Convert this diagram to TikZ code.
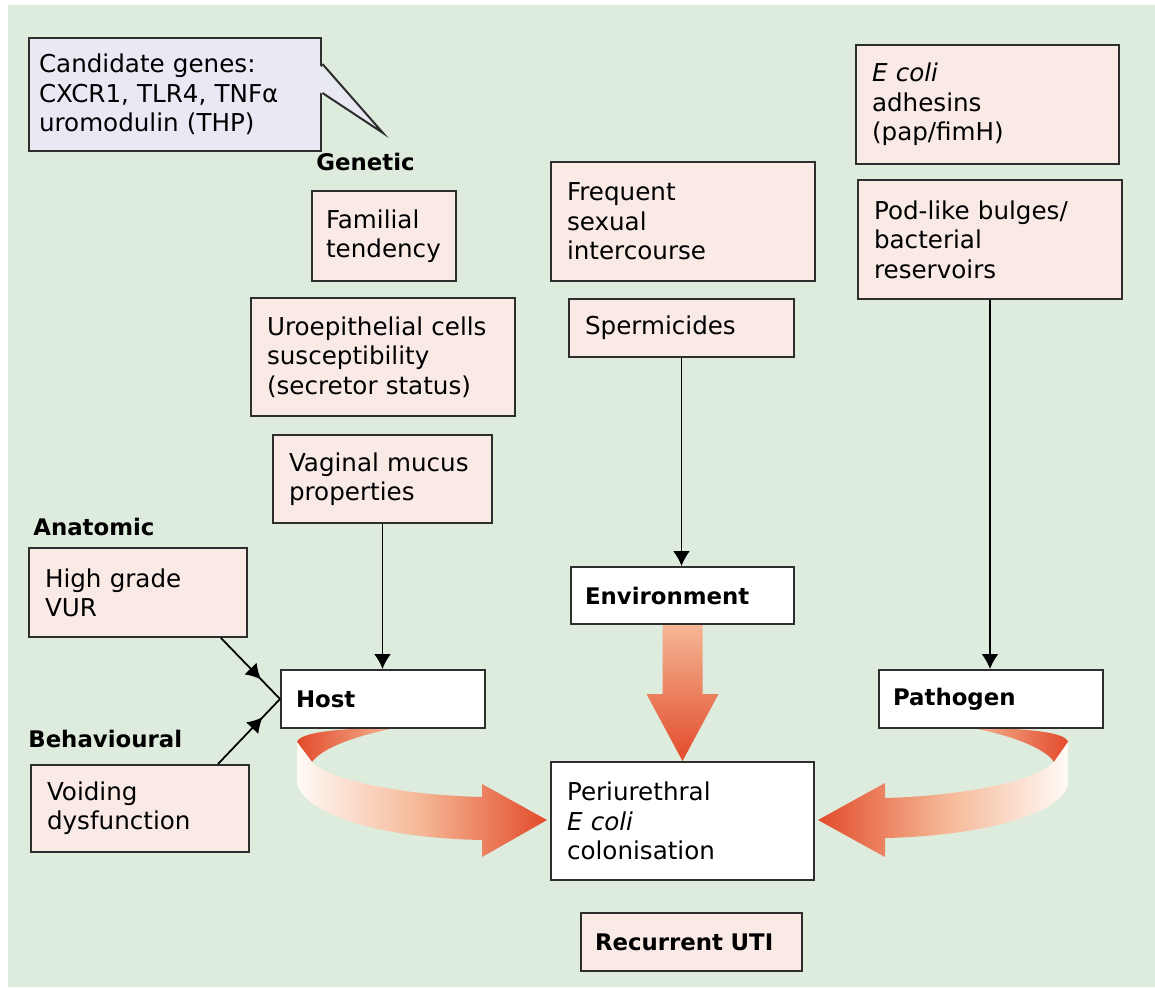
\documentclass[tikz,border=0pt]{standalone}
\usepackage{fontspec}
\setmainfont{DejaVu Sans}
\usetikzlibrary{arrows.meta, calc, decorations.markings}
\definecolor{bggreen}{HTML}{DDECDD}
\definecolor{boxpink}{HTML}{F9EAE6}
\definecolor{notelilac}{HTML}{E9E9F4}
\definecolor{edgegray}{HTML}{2E2E2E}
\definecolor{arrowred}{HTML}{E24B2B}
\definecolor{arrowpeach}{HTML}{F5B694}
\definecolor{arrowlight}{HTML}{FFFAF6}

\begin{document}
\begin{tikzpicture}[x=0.02cm, y=-0.02cm, >={Latex[length=0.3cm, width=0.34cm]},
  basebox/.style={draw=edgegray, line width=0.04cm, align=left, inner xsep=0.32cm, inner ysep=2pt},
  pinkbox/.style 2 args={basebox, fill=boxpink, text width=#1, minimum height=#2, font=\fontsize{14}{16.7}\selectfont},
  whitebox/.style 2 args={pinkbox={#1}{#2}, fill=white},
  headbox/.style 2 args={basebox, fill=white, text width=#1, minimum height=#2, font=\fontsize{13}{16}\selectfont\bfseries},
  lbl/.style={inner sep=0pt, anchor=west, font=\fontsize{13}{16}\selectfont\bfseries},
  link/.style={line width=1pt},
  midarrow/.style={link, postaction={decorate}, decoration={markings, mark=at position #1 with {\arrow{Latex[length=0.3cm, width=0.34cm]}}}}]

% Backdrop
\useasboundingbox (0,0) rectangle (1155,987);
\fill[bggreen] (8,5) rectangle (1155,987);

% Curved arrows into colonisation
\shade[left color=arrowred, right color=arrowpeach] (297,742) .. controls (300,732) and (340,728) .. (395,728) .. controls (355,736) and (322,748) .. (312,762) -- cycle;
\shade[left color=arrowlight, right color=arrowred, middle color=arrowpeach] (297,742) -- (297,783) .. controls (305,815) and (380,838) .. (482,840) -- (482,857) -- (547,820) -- (482,784) -- (482,797) .. controls (400,795) and (330,780) .. (312,762) -- cycle;
\shade[left color=arrowpeach, right color=arrowred] (1068,742) .. controls (1066,732) and (1025,728) .. (972,728) .. controls (1010,735) and (1045,748) .. (1054,762) -- cycle;
\shade[left color=arrowred, right color=arrowlight, middle color=arrowpeach] (1068,742) -- (1068,785) .. controls (1060,815) and (980,836) .. (885,838) -- (885,857) -- (818,820) -- (885,783) -- (885,798) .. controls (960,796) and (1035,782) .. (1054,762) -- cycle;

% Host
\node[pinkbox={5.45cm}{2.26cm}, fill=notelilac, inner xsep=0.2cm] (genes) at (175.25,94.5) {Candidate genes:\\ CXCR1, TLR4, TNFα\\ uromodulin (THP)};
\node[lbl] (genetic) at (316,162) {Genetic};
\node[pinkbox={2.32cm}{1.8cm}, inner xsep=0.28cm] (familial) at (384,236) {Familial\\ tendency};
\node[pinkbox={4.64cm}{2.36cm}] (uro) at (383,357) {Uroepithelial cells\\ susceptibility\\ (secretor status)};
\node[pinkbox={3.74cm}{1.76cm}] (vaginal) at (382.5,479) {Vaginal mucus\\ properties};
\node[lbl] (anatomic) at (33,527) {Anatomic};
\node[pinkbox={3.72cm}{1.78cm}] (vur) at (138,592.5) {High grade\\ VUR};
\node[lbl] (behav) at (28,739) {Behavioural};
\node[pinkbox={3.72cm}{1.74cm}] (voiding) at (140,808.5) {Voiding\\ dysfunction};
\node[headbox={3.48cm}{1.16cm}, inner xsep=0.3cm] (host) at (383,699) {Host};

% Environment
\node[pinkbox={4.64cm}{2.38cm}] (freq) at (683,221.5) {Frequent\\ sexual\\ intercourse};
\node[pinkbox={3.86cm}{1.16cm}] (sperm) at (681.5,328) {Spermicides};
\node[headbox={3.9cm}{1.14cm}, inner xsep=0.28cm] (env) at (682.5,595.5) {Environment};
\node[whitebox={4.62cm}{2.36cm}] (peri) at (682.5,821) {Periurethral\\ \textit{E coli}\\ colonisation};
\node[headbox={3.86cm}{1.16cm}, fill=boxpink, inner xsep=0.28cm] (uti) at (691.5,942) {Recurrent UTI};

% Pathogen
\node[pinkbox={4.62cm}{2.38cm}] (ecoli) at (987.5,104.5) {\textit{E coli}\\ adhesins\\ (pap/fimH)};
\node[pinkbox={4.64cm}{2.38cm}] (pod) at (990,239.5) {Pod-like bulges/\\ bacterial\\ reservoirs};
\node[headbox={3.92cm}{1.16cm}, inner xsep=0.28cm] (pathogen) at (991,699) {Pathogen};

% Callout pointer
\coordinate (genetip) at (383,133);
\fill[notelilac] ($(genes.north east)+(-3,28)$) -- (genetip) -- ($(genes.north east)+(-3,55)$) -- cycle;
\draw[edgegray, line width=0.04cm] ($(genes.north east)+(0,27)$) -- (genetip) -- ($(genes.north east)+(0,56)$);

% Connections
\draw[midarrow=0.68] ($(vur.south east)+(-27,0)$) -- (host.west);
\draw[midarrow=0.72] ($(voiding.north east)+(-32,0)$) -- (host.west);
\draw[->, link] (vaginal.south) -- (vaginal.south |- host.north);
\draw[->, link] (sperm.south) -- (sperm.south |- env.north);
\draw[->, link] (pod.south) -- (pod.south |- pathogen.north);

% Environment arrow
\shade[top color=arrowpeach, bottom color=arrowred] ($(env.south)+(-20,0)$) -- ($(env.south)+(20,0)$) -- ($(peri.north)+(20,-67)$) -- ($(peri.north)+(36,-67)$) -- (peri.north) -- ($(peri.north)+(-36,-67)$) -- ($(peri.north)+(-20,-67)$) -- cycle;
\end{tikzpicture}
\end{document}
